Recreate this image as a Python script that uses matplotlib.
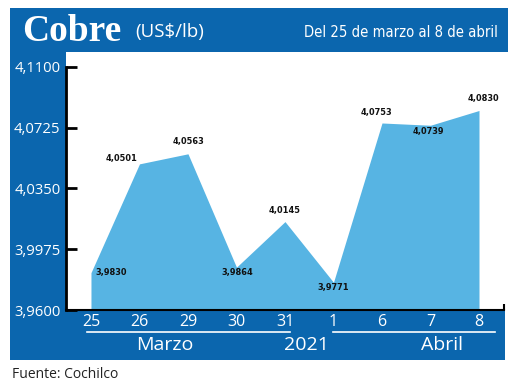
import matplotlib
matplotlib.use("Agg")
import matplotlib.pyplot as plt
from matplotlib.patches import Rectangle
from matplotlib.ticker import FixedLocator, FuncFormatter
from matplotlib import font_manager as fm
import os

# ---- data ----
days = ["25", "26", "29", "30", "31", "1", "6", "7", "8"]
prices = [3.9830, 4.0501, 4.0563, 3.9864, 4.0145, 3.9771, 4.0753, 4.0739, 4.0830]
yticks = [3.9600, 3.9975, 4.0350, 4.0725, 4.1100]
title = "Cobre"
unit = "(US$/lb)"
subtitle = "Del 25 de marzo al 8 de abril"
months = ["Marzo", "2021", "Abril"]
source = "Fuente: Cochilco"

# label offsets in pixels (dx, dy, ha)
label_offsets = [(4, 0, "left"), (-2, 5, "right"), (1, 12, "center"),
                 (1, -5, "center"), (0, 11, "center"), (0, -5, "center"),
                 (-6, 10, "center"), (-2, -6, "center"), (4, 12, "center")]

W, H = 520, 386
BLUE = "#0b66ae"
LIGHT = "#57b4e3"

# condensed font files, if installed
files = fm.findSystemFonts()
def find(name):
    for f in files:
        if os.path.basename(f).lower() == name:
            return f
    return None
cb = find("dejavusanscondensed-bold.ttf")
cr = find("dejavusanscondensed.ttf")
cond_bold = fm.FontProperties(fname=cb) if cb else \
    fm.FontProperties(family="DejaVu Sans", weight="bold", stretch="condensed")
cond_norm = fm.FontProperties(fname=cr) if cr else \
    fm.FontProperties(family="DejaVu Sans", stretch="condensed")

fig = plt.figure(figsize=(W / 100, H / 100), dpi=100)
fig.patch.set_facecolor("white")

def px(x0, y0, x1, y1):
    return (x0 / W, 1 - y1 / H, (x1 - x0) / W, (y1 - y0) / H)

# frame pieces
for (x0, y0, x1, y1) in [(10, 8, 508, 52), (10, 52, 66, 360), (10, 310, 505, 360)]:
    l, b, w, h = px(x0, y0, x1, y1)
    fig.patches.append(Rectangle((l, b), w, h, transform=fig.transFigure,
                                 facecolor=BLUE, edgecolor="none", zorder=-1))

# axes
ax = fig.add_axes(px(66, 52, 508, 310))
ax.set_facecolor("white")
x = list(range(len(days)))
ax.fill_between(x, prices, 3.96, color=LIGHT, linewidth=0, zorder=1)

ax.set_xlim(-0.515, 8.598)
ax.set_ylim(3.96, 3.96 + 258 / 1622)

for s in ["top", "right"]:
    ax.spines[s].set_visible(False)
ax.spines["left"].set_bounds(3.96, 4.11)
ax.spines["bottom"].set_bounds(-0.515, 8.52)
ax.spines["left"].set_linewidth(2)
ax.spines["bottom"].set_linewidth(1.5)
ax.spines["left"].set_zorder(3)
ax.spines["bottom"].set_zorder(3)

fmt = lambda v, p=None: f"{v:.4f}".replace(".", ",")
ax.yaxis.set_major_locator(FixedLocator(yticks))
ax.yaxis.set_major_formatter(FuncFormatter(fmt))
ax.tick_params(axis="y", direction="in", length=8, width=2, color="black",
               labelcolor="white", labelsize=10.7, pad=4)
for t in ax.get_yticklabels():
    t.set_fontfamily(["Open Sans", "DejaVu Sans"])

ax.set_xticks(x)
ax.set_xticklabels(days)
ax.tick_params(axis="x", length=0, labelcolor="white", labelsize=11.5, pad=3)
for t in ax.get_xticklabels():
    t.set_fontfamily(["Open Sans", "DejaVu Sans"])
ax.xaxis.set_minor_locator(FixedLocator([8.52]))
ax.tick_params(axis="x", which="minor", direction="in", length=4, width=1.5,
               color="black")

# data labels
lp = cond_bold.copy()
lp.set_size(6.6)
for i, (v, (dx, dy, ha)) in enumerate(zip(prices, label_offsets)):
    ax.annotate(fmt(v), (i, v), xytext=(dx * 0.72, dy * 0.72),
                textcoords="offset points", ha=ha, va="center",
                fontproperties=lp, color="#111111", zorder=4)

# titles
fig.text(22 / W, 1 - 41 / H, title, fontsize=27, fontweight="bold", color="white",
         family=["Liberation Serif", "DejaVu Serif"], ha="left", va="baseline")
fig.text(135 / W, 1 - 37 / H, unit, fontsize=13.5, color="white",
         family=["Open Sans", "DejaVu Sans"], ha="left", va="baseline")
sp = cond_norm.copy()
sp.set_size(10.6)
fig.text(498 / W, 1 - 37 / H, subtitle, fontproperties=sp, color="white",
         ha="right", va="baseline")

# months row
for txt, cx in zip(months, [165, 306, 442]):
    fig.text(cx / W, 1 - 345 / H, txt, fontsize=14, color="white",
             family=["Open Sans", "DejaVu Sans"], ha="center", va="center")
for (x0, x1) in [(87, 290), (333, 495)]:
    fig.add_artist(plt.Line2D([x0 / W, x1 / W], [1 - 332 / H, 1 - 332 / H],
                              transform=fig.transFigure, color="white", linewidth=1.2))

fig.text(12 / W, 1 - 375 / H, source, fontsize=10, color="#222222",
         family=["Open Sans", "DejaVu Sans"], ha="left", va="center")

fig.savefig("out.png", dpi=100)
